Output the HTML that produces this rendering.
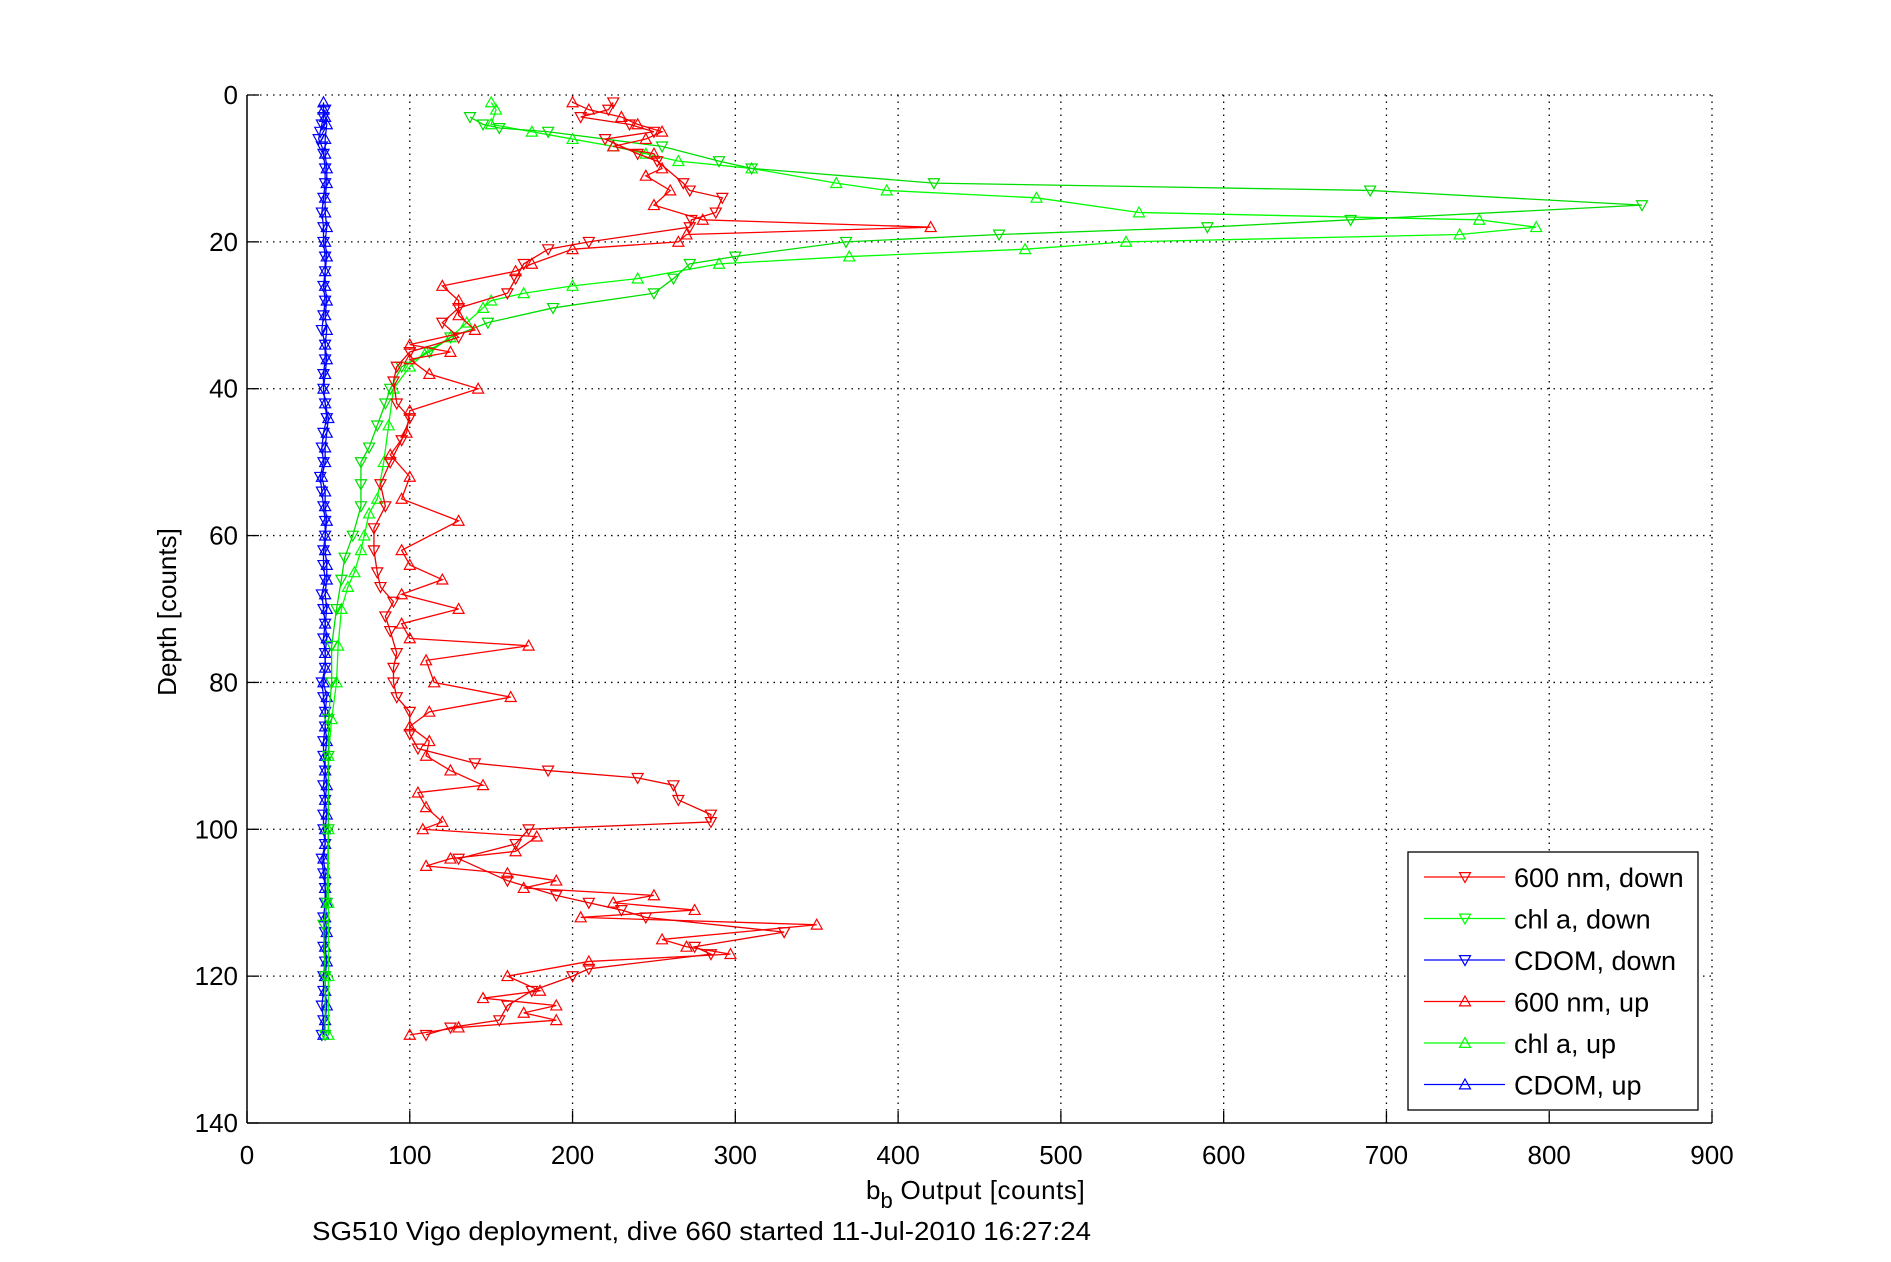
<!DOCTYPE html>
<html><head><meta charset="utf-8">
<style>
html,body{margin:0;padding:0;background:#fff;}
svg{display:block;font-family:"Liberation Sans",sans-serif;}
</style></head>
<body>
<svg id="chart" width="1891" height="1262" viewBox="0 0 1891 1262" xmlns="http://www.w3.org/2000/svg">
<rect width="1891" height="1262" fill="#fff"/>
<g id="grid"></g>
<g id="axes"></g>
<g id="series"></g>
<text x="0" y="0" transform="translate(176,612) rotate(-90)" text-anchor="middle" font-size="26">Depth [counts]</text>
<text x="866" y="1199" font-size="26">b<tspan font-size="22" dy="9">b</tspan><tspan dy="-9" textLength="192" lengthAdjust="spacing"> Output [counts]</tspan></text>
<text x="312" y="1240" font-size="26" textLength="779" lengthAdjust="spacingAndGlyphs">SG510 Vigo deployment, dive 660 started 11-Jul-2010 16:27:24</text>
<g id="legend"></g>
</svg>
<script>
const xTicks=[0,100,200,300,400,500,600,700,800,900];
const yTicks=[0,20,40,60,80,100,120,140];
const red_down_depth=[1,2,3,4,5,6,8,9,12,13,14,16,17,18,20,21,23,25,27,29,31,33,35,37,39,42,44,47,50,53,56,59,62,65,67,69,71,73,76,78,80,82,84,87,89,91,92,93,94,96,98,99,100,102,104,107,109,110,111,112,114,116,117,119,120,122,124,126,127,128];
const red_down_val=[225,222,205,235,250,220,240,252,268,272,292,288,273,272,210,185,170,165,160,130,120,130,100,92,90,92,100,95,88,82,85,78,78,80,82,90,85,88,92,90,90,92,100,100,105,140,185,240,262,265,285,285,173,165,130,160,190,210,230,245,330,275,285,210,200,175,160,155,125,110];
const chl_down_depth=[3,4,4.5,5,7,9,10,12,13,15,17,18,19,20,22,23,25,27,29,31,33,35,37,40,42,45,48,50,53,56,60,63,66,70,75,80,85,90,100,110,113,120,128];
const chl_down_val=[137,145,155,185,255,290,310,422,690,857,678,590,462,368,300,272,262,250,188,148,125,112,95,88,85,80,75,70,70,70,65,60,58,55,52,52,50,50,50,49,47,48,48];
const cdom_down_depth=[2,3,4,5,6,7,8,10,12,14,16,18,20,22,24,26,28,30,32,34,36,38,40,42,44,46,48,50,52,54,56,58,60,62,64,66,68,70,72,74,76,78,80,82,84,86,88,90,92,94,96,98,100,102,104,106,108,110,112,114,116,118,120,122,124,126,128];
const cdom_down_val=[48,47,46,45,44,46,47,48,48,47,46,47,47,48,48,47,48,47,46,48,48,47,47,48,49,47,46,47,45,46,47,48,48,47,47,48,46,47,48,47,48,48,46,47,48,48,47,47,48,47,48,47,47,48,46,47,48,48,47,48,47,48,47,47,46,47,46];
const red_up_depth=[128,127,126,125,124,123,122,120,118,117,116,115,113,112,111,110,109,108,107,106,105,104,103,101,100,99,97,95,94,92,90,88,86,84,82,80,77,75,74,72,70,68,66,64,62,58,55,52,49,46,43,40,38,36,35,34,32,30,28,26,24,23,21,20,19,18,17,15,13,11,10,8,7,6,5,4,3,2,1];
const red_up_val=[100,130,190,170,190,145,180,160,210,297,270,255,350,205,275,225,250,170,190,160,110,125,165,178,108,120,110,105,145,125,110,112,100,112,162,115,110,173,100,95,130,95,120,100,95,130,95,100,88,98,100,142,112,100,125,100,140,130,130,120,165,175,200,265,270,420,280,250,260,245,255,250,225,245,255,240,230,210,200];
const chl_up_depth=[128,120,110,100,90,85,80,75,70,67,65,62,60,57,55,50,45,40,37,35,33,31,29,28,27,26,25,23,22,21,20,19,18,17,16,14,13,12,10,9,8,7,6,5,4,2,1];
const chl_up_val=[50,50,50,50,50,52,55,56,58,62,66,70,72,75,80,84,87,90,100,110,125,135,145,150,170,200,240,290,370,478,540,745,792,757,548,485,393,362,310,265,245,225,200,175,150,153,150];
const cdom_up_depth=[128,126,124,122,120,118,116,114,112,110,108,106,104,102,100,98,96,94,92,90,88,86,84,82,80,78,76,74,72,70,68,66,64,62,60,58,56,54,52,50,48,46,44,42,40,38,36,34,32,30,28,26,24,22,20,18,16,14,12,10,8,6,4,3,2,1];
const cdom_up_val=[47,48,49,48,48,49,48,49,48,49,48,48,47,48,48,49,48,49,48,48,49,48,48,49,47,48,48,49,48,49,48,49,49,48,48,49,48,48,46,48,48,49,50,48,47,48,49,48,49,48,49,48,48,49,48,49,48,48,49,49,48,48,49,48,47,47];

const L=247,R=1712,T=95,B=1123;
const X=v=>L+(v-0)/900*(R-L);
const Y=d=>T+(d-0)/140*(B-T);
const NS='http://www.w3.org/2000/svg';
function mk(tag,attrs,parent){const e=document.createElementNS(NS,tag);for(const k in attrs)e.setAttribute(k,attrs[k]);parent.appendChild(e);return e;}
const grid=document.getElementById('grid'),axes=document.getElementById('axes'),ser=document.getElementById('series'),leg=document.getElementById('legend');

xTicks.forEach(t=>{
  const x=X(t);
  if(t>0){const g=mk('line',{x1:x,y1:T,x2:x,y2:B,stroke:'#000','stroke-width':1.3,'stroke-dasharray':'1.5 5'},grid);
  
  }
  const tk=mk('line',{x1:x,y1:B,x2:x,y2:B-12,stroke:'#000','stroke-width':1.3},axes);
  
  
  const lb=mk('text',{x:x,y:1164,'text-anchor':'middle','font-size':26},axes);
  
  
  lb.textContent=t;
});
yTicks.forEach(t=>{
  const y=Y(t);
  if(t<140){const g=mk('line',{x1:L,y1:y,x2:R,y2:y,stroke:'#000','stroke-width':1.3,'stroke-dasharray':'1.5 5'},grid);
  
  }
  const tk=mk('line',{x1:L,y1:y,x2:L+12,y2:y,stroke:'#000','stroke-width':1.3},axes);
  
  
  const lb=mk('text',{x:238,y:y+9,'text-anchor':'end','font-size':26},axes);
  
  
  lb.textContent=t;
});
const ax1=mk('line',{x1:L,y1:T,x2:L,y2:B,stroke:'#000','stroke-width':1.5},axes);


const ax2=mk('line',{x1:L,y1:B,x2:R,y2:B,stroke:'#000','stroke-width':1.5},axes);



function tri(x,y,down,col,parent){
  const s=5.5;
  const pts=down?`${x-s},${y-s*0.8} ${x+s},${y-s*0.8} ${x},${y+s}`:`${x-s},${y+s*0.8} ${x+s},${y+s*0.8} ${x},${y-s}`;
  const p=mk('polygon',{points:pts,fill:'none',stroke:col,'stroke-width':1.2},parent);
  
  
}
function draw(depths,vals,col,down,name){
  const g=mk('g',{},ser);
  
  
  const pts=depths.map((d,i)=>X(vals[i])+','+Y(d)).join(' ');
  mk('polyline',{points:pts,fill:'none',stroke:col,'stroke-width':1.3},g);
  depths.forEach((d,i)=>tri(X(vals[i]),Y(d),down,col,g));
}
draw(cdom_up_depth,cdom_up_val,'#0000ff',false,'series-cdom-up');
draw(cdom_down_depth,cdom_down_val,'#0000ff',true,'series-cdom-down');
draw(chl_up_depth,chl_up_val,'#00ff00',false,'series-chl-up');
draw(chl_down_depth,chl_down_val,'#00dd00',true,'series-chl-down');
draw(red_up_depth,red_up_val,'#ff0000',false,'series-600nm-up');
draw(red_down_depth,red_down_val,'#ee0000',true,'series-600nm-down');

const lr=mk('rect',{x:1408,y:852,width:290,height:258,fill:'#fff',stroke:'#000','stroke-width':1.3},leg);


const entries=[['600 nm, down','#ff0000',true],['chl a, down','#00ff00',true],['CDOM, down','#0000ff',true],['600 nm, up','#ff0000',false],['chl a, up','#00ff00',false],['CDOM, up','#0000ff',false]];
entries.forEach((e,i)=>{
  const y=877+i*41.5;
  const g=mk('g',{},leg);
  
  
  mk('line',{x1:1424,y1:y,x2:1505,y2:y,stroke:e[1],'stroke-width':1.3},g);
  tri(1465,y,e[2],e[1],g);
  const t=mk('text',{x:1514,y:y+10,'font-size':27},g);
  
  
  t.textContent=e[0];
});
</script>
</body></html>
